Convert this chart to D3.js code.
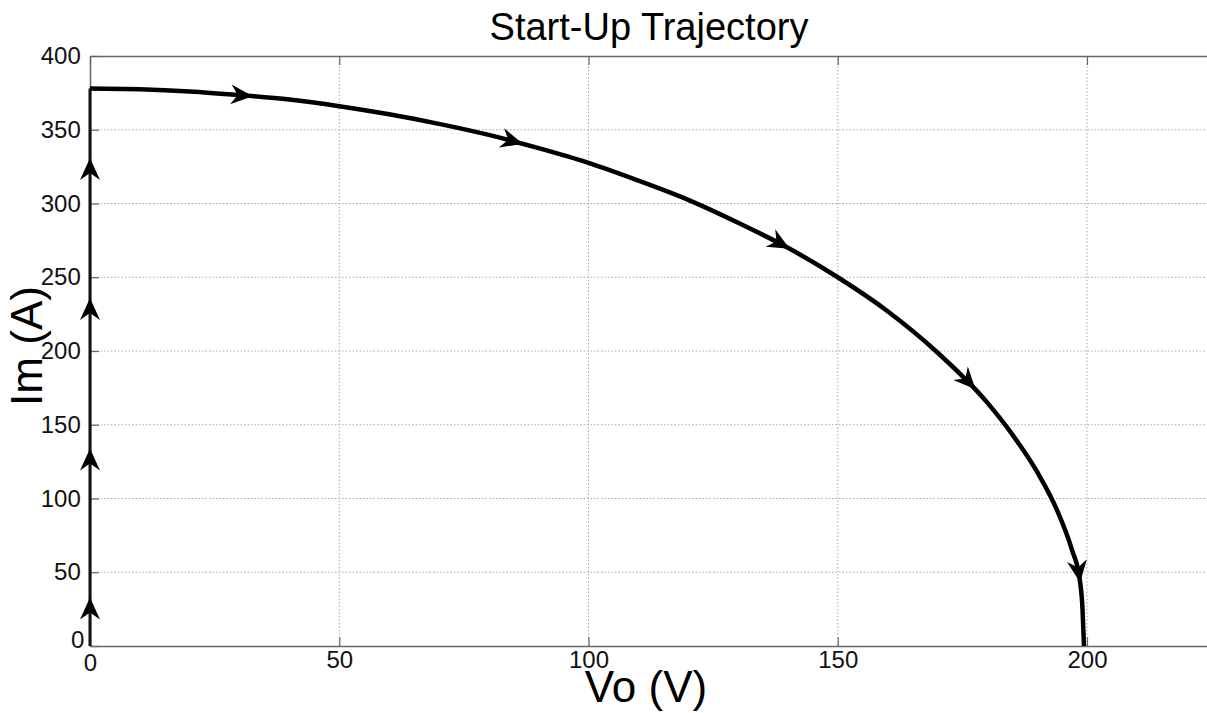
<!DOCTYPE html>
<html>
<head>
<meta charset="utf-8">
<title>Start-Up Trajectory</title>
<script src="https://d3js.org/d3.v7.min.js"></script>
<style>
  body { margin: 0; background: white; }
  svg { display: block; font-family: Arial, "Liberation Sans", sans-serif; }
</style>
</head>
<body>
<script>
let xTicks = [0, 50, 100, 150, 200]
let yTicks = [0, 50, 100, 150, 200, 250, 300, 350, 400]

// vertical start-up leg (Vo stays at 0 while Im climbs)
let legVo = [0, 0]
let legIm = [0, 378]

// the curved part of the trajectory
let curveVo = [0, 10, 20, 30, 40, 50, 60, 70, 80, 90, 100, 110, 120, 130, 140, 150, 160, 170, 180, 185, 190, 194, 197, 198.5, 199.1, 199.4]
let curveIm = [378, 377.5, 376, 373.5, 370.5, 366, 360.5, 354, 346.5, 337.5, 327.5, 315.5, 302.5, 287, 270, 250, 227, 199, 165, 143.5, 118, 92, 65, 46, 25, 0]

// where the arrow tips sit
let legArrowIm = [33, 134, 236, 331]
let curveArrowVo = [32.7, 86.9, 140.2, 177.5, 198]
let curveArrowIm = [373.6, 341, 268.5, 173.6, 42.7]

let width = 1207
let height = 713
let plotLeft = 90, plotTop = 56, plotBottom = 646
let pxPerVo = (1087 - 90) / 200

let svg = d3.select("body").append("svg")
    .attr("width", width)
    .attr("height", height)

let x = d3.scaleLinear().domain([0, 225]).range([plotLeft, plotLeft + 225 * pxPerVo])
let y = d3.scaleLinear().domain([0, 400]).range([plotBottom, plotTop])
let plotRight = x(225)

// grid
let grid = svg.append("g")
grid.selectAll(".gx").data(xTicks.filter(d => d > 0)).enter().append("line")
    .attr("x1", d => x(d)).attr("x2", d => x(d))
    .attr("y1", plotTop).attr("y2", plotBottom)
    .attr("stroke", "#a8a8a8").attr("stroke-width", 1).attr("stroke-dasharray", "1.5,2")
grid.selectAll(".gy").data(yTicks.filter(d => d > 0 && d < 400)).enter().append("line")
    .attr("x1", plotLeft).attr("x2", plotRight)
    .attr("y1", d => y(d)).attr("y2", d => y(d))
    .attr("stroke", "#a8a8a8").attr("stroke-width", 1).attr("stroke-dasharray", "1.5,2")

// axes, ticks pointing inwards like matlab
let axisColor = "#666"
let xAxis = svg.append("g").attr("transform", `translate(0,${plotBottom})`)
    .call(d3.axisBottom(x).tickValues(xTicks).tickSizeInner(-9).tickSizeOuter(0).tickPadding(8))
let xTop = svg.append("g").attr("transform", `translate(0,${plotTop})`)
    .call(d3.axisTop(x).tickValues(xTicks).tickSizeInner(-9).tickSizeOuter(0).tickFormat(""))
let yAxis = svg.append("g").attr("transform", `translate(${plotLeft},0)`)
    .call(d3.axisLeft(y).tickValues(yTicks).tickSizeInner(-9).tickSizeOuter(0).tickPadding(14))

for (let a of [xAxis, xTop, yAxis]) {
    a.select(".domain").attr("stroke", axisColor).attr("stroke-width", 1.5)
    a.selectAll(".tick line").attr("stroke", axisColor).attr("stroke-width", 1.2)
    a.selectAll("text").attr("font-size", 24).attr("fill", "#111")
        .attr("font-family", "Arial, 'Liberation Sans', sans-serif")
}
xAxis.selectAll("text").attr("dy", "0.6em")
yAxis.selectAll("text").attr("dx", "0.2em")
// matlab nudges the two zeros apart
xAxis.selectAll(".tick").filter(d => d === 0).select("text").attr("dy", "0.72em")
yAxis.selectAll(".tick").filter(d => d === 0).select("text").attr("dy", "0.05em").attr("dx", "0.35em")

// trajectory
let line = d3.line().x(d => x(d[0])).y(d => y(d[1]))

let legPath = svg.append("path")
    .datum(legVo.map((v, i) => [v, legIm[i]]))
    .attr("d", line)
    .attr("fill", "none").attr("stroke", "#111").attr("stroke-width", 3)

let curvePath = svg.append("path")
    .datum(curveVo.map((v, i) => [v, curveIm[i]]))
    .attr("d", line.curve(d3.curveMonotoneX))
    .attr("fill", "none").attr("stroke", "#000").attr("stroke-width", 4.5)
    .attr("stroke-linejoin", "round")

// arrowheads: find the nearest point on the path and follow its direction
let arrowShape = "M0,0 L-22,-10 L-15,0 L-22,10 Z"

let drawArrow = (pathNode, px, py) => {
    let total = pathNode.getTotalLength()
    let best = 0, bestD = Infinity
    for (let l = 0; l <= total; l += 0.5) {
        let p = pathNode.getPointAtLength(l)
        let d = (p.x - px) ** 2 + (p.y - py) ** 2
        if (d < bestD) { bestD = d; best = l }
    }
    let p0 = pathNode.getPointAtLength(Math.max(0, best - 2))
    let p1 = pathNode.getPointAtLength(Math.min(total, best + 2))
    let tip = pathNode.getPointAtLength(best)
    let ang = Math.atan2(p1.y - p0.y, p1.x - p0.x) * 180 / Math.PI
    svg.append("path")
        .attr("d", arrowShape)
        .attr("transform", `translate(${tip.x},${tip.y}) rotate(${ang})`)
        .attr("fill", "#000")
}

legArrowIm.forEach(v => drawArrow(legPath.node(), x(0), y(v)))
curveArrowVo.forEach((v, i) => drawArrow(curvePath.node(), x(v), y(curveArrowIm[i])))

// labels
svg.append("text")
    .attr("x", 649).attr("y", 40)
    .attr("text-anchor", "middle")
    .attr("font-size", 38)
    .text("Start-Up Trajectory")

svg.append("text")
    .attr("x", 646).attr("y", 702)
    .attr("text-anchor", "middle")
    .attr("font-size", 44)
    .text("Vo (V)")

svg.append("text")
    .attr("transform", "translate(42,346) rotate(-90)")
    .attr("text-anchor", "middle")
    .attr("font-size", 44)
    .text("Im (A)")
</script>
</body>
</html>
